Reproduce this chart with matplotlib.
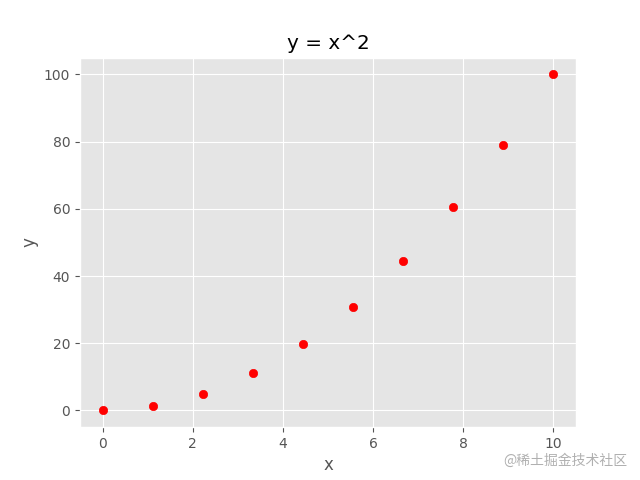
import matplotlib
matplotlib.use("Agg")
import matplotlib.pyplot as plt

plt.style.use("ggplot")

# values
x_vals = [0, 1.11, 2.22, 3.33, 4.44, 5.56, 6.67, 7.78, 8.89, 10]
y_vals = [0, 1.23, 4.94, 11.1, 19.8, 30.9, 44.4, 60.5, 79.0, 100]

fig, ax = plt.subplots(figsize=(6.4, 4.8), dpi=100)
ax.scatter(x_vals, y_vals, color="red", s=36, zorder=3)
ax.set_title("y = x^2", color="black")
ax.set_xlabel("x")
ax.set_ylabel("y")

# watermark
fig.text(0.98, 0.04, "@稀土掘金技术社区", ha="right", va="center",
         fontsize=10, color="#b0b0b0",
         family=["Noto Sans CJK SC", "DejaVu Sans"])

fig.savefig("out.png")
